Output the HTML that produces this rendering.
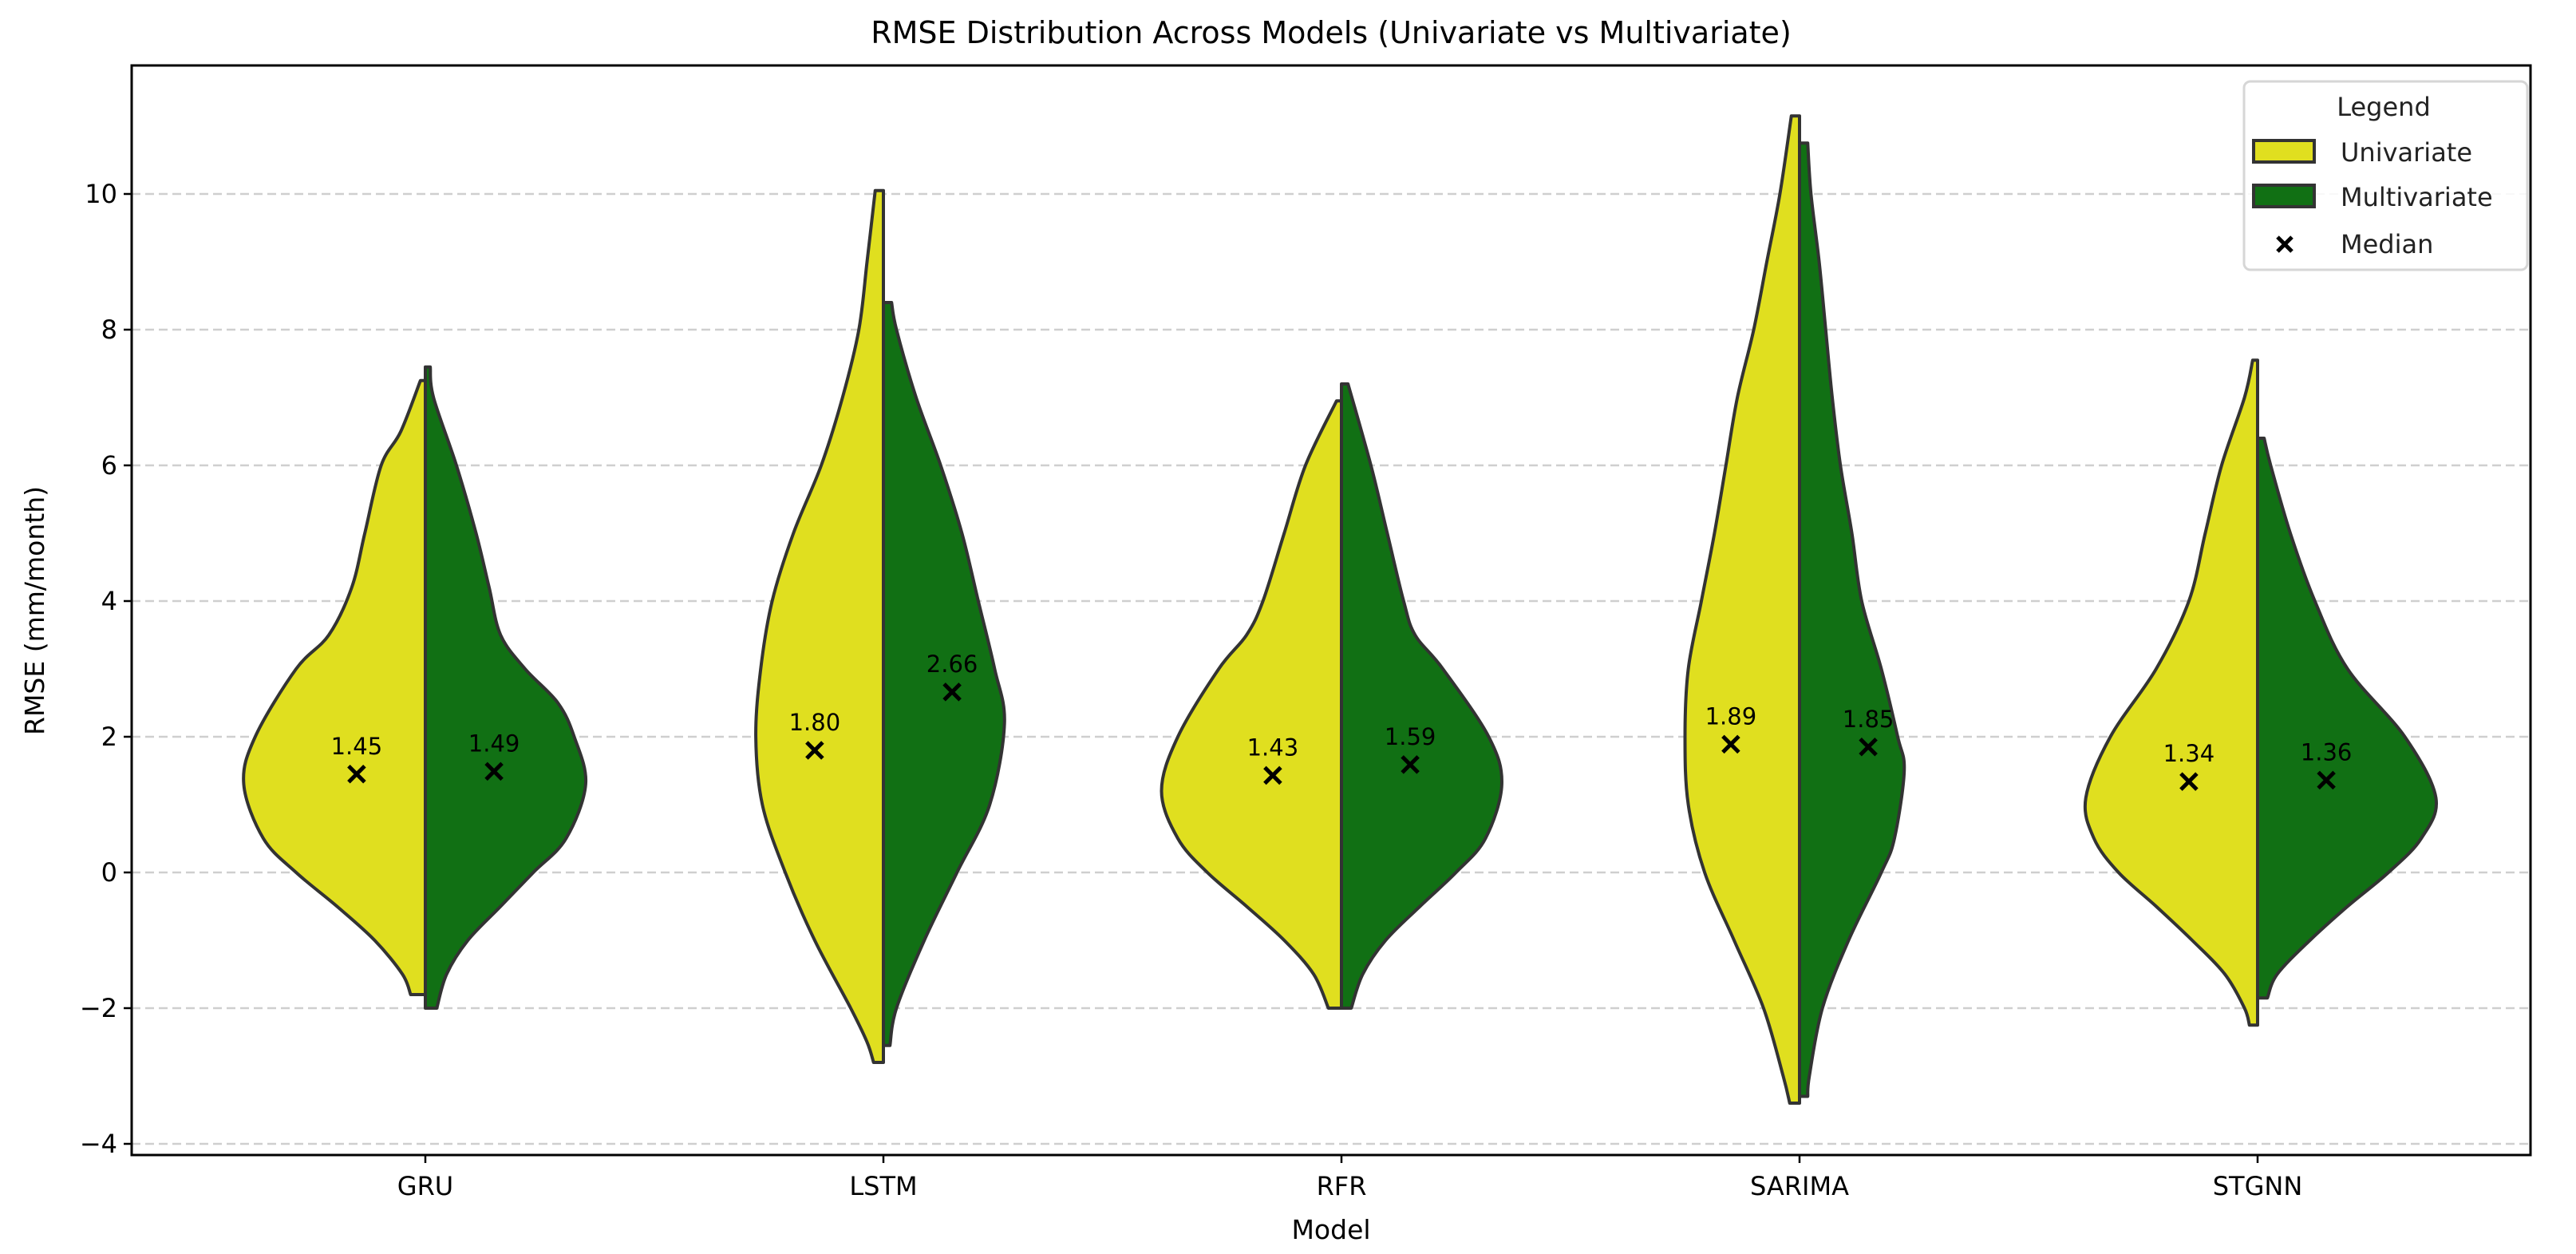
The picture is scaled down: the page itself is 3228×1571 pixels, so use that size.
<!DOCTYPE html>
<html><head><meta charset="utf-8"><style>
body{margin:0;background:#fff}
svg{display:block;font-family:"DejaVu Sans","Liberation Sans",sans-serif}
</style></head><body>
<svg id="chart" width="3228" height="1571" viewBox="0 0 3228 1571">
<rect width="3228" height="1571" fill="#fff"/>
<g id="grid"></g>
<g id="violins"></g>
<g id="axes"></g>
<text x="1668" y="54" font-size="38" text-anchor="middle" fill="#000">RMSE Distribution Across Models (Univariate vs Multivariate)</text>
<text x="1668" y="1552" font-size="33" text-anchor="middle" fill="#000">Model</text>
<text x="0" y="0" font-size="33" text-anchor="middle" fill="#000" transform="translate(55,765) rotate(-90)">RMSE (mm/month)</text>
<g>
<rect x="2812" y="102" width="355" height="236" rx="8" fill="#fff" fill-opacity="0.85" stroke="#d6d6d6" stroke-width="3"/>
<text x="2987" y="145" font-size="32" text-anchor="middle" fill="#222">Legend</text>
<rect x="2824" y="176" width="76" height="27" fill="#e0df1f" stroke="#333" stroke-width="4"/>
<text x="2933" y="202" font-size="32" fill="#222">Univariate</text>
<rect x="2824" y="232" width="76" height="27" fill="#117014" stroke="#333" stroke-width="4"/>
<text x="2933" y="258" font-size="32" fill="#222">Multivariate</text>
<path d="M2854 297 L2872 315 M2872 297 L2854 315" stroke="#000" stroke-width="5"/>
<text x="2933" y="317" font-size="32" fill="#222">Median</text>
</g>
</svg>
<script>
const categories = ["GRU","LSTM","RFR","SARIMA","STGNN"];
const yTicks = [-4,-2,0,2,4,6,8,10];
const medUni = [1.45,1.80,1.43,1.89,1.34];
const medMulti = [1.49,2.66,1.59,1.85,1.36];
// violin profiles: [value, density] pairs, top to bottom
const uniProfiles = [
 [[7.25,3],[6.5,15],[6,27],[5,37],[4.2,45],[3.5,59],[3,79],[2,104],[1.3,111],[0.5,99],[0,79],[-0.5,54],[-1,31],[-1.5,14],[-1.8,9]],
 [[10.05,5],[9,10],[8,15],[7,25],[6,38],[5,55],[4,68],[3,75],[2,78],[1,74],[0,60],[-1,42],[-2,20],[-2.5,10],[-2.8,6]],
 [[6.95,3],[6,22],[5,35],[4,48],[3.5,58],[3,75],[2,100],[1.2,110],[0.5,100],[0,82],[-0.5,58],[-1,35],[-1.5,17],[-2,8]],
 [[11.15,5],[10,12],[9,20],[8,28],[7,38],[6,45],[5,52],[4,60],[3,68],[2,70],[1,68],[0,58],[-1,40],[-2,22],[-3,10],[-3.4,6]],
 [[7.55,3],[7,8],[6,22],[5,32],[4,42],[3,62],[2,90],[1.1,105],[0.5,100],[0,85],[-0.5,62],[-1,40],[-1.5,20],[-2,8],[-2.25,5]]
];
const multiProfiles = [
 [[7.45,3],[7,5],[6,19],[5,31],[4.2,39],[3.5,46],[3,61],[2.5,81],[2,91],[1.3,98],[0.5,86],[0,66],[-0.5,46],[-1,26],[-1.5,13],[-2,7]],
 [[8.4,5],[8,8],[7,20],[6,35],[5,48],[4,58],[3,68],[2.2,74],[1,65],[0,45],[-1,25],[-2,8],[-2.55,4]],
 [[7.2,4],[6,18],[5,28],[4,38],[3.5,45],[3,62],[2,90],[1.3,98],[0.5,88],[0,70],[-0.5,48],[-1,27],[-1.5,13],[-2,6]],
 [[10.75,5],[10,7],[9,12],[8,16],[7,20],[6,25],[5,32],[4,38],[3,50],[2,60],[1.5,64],[0.5,58],[0,50],[-1,30],[-2,14],[-3,6],[-3.3,5]],
 [[6.4,4],[6,8],[5,20],[4,35],[3,55],[2,90],[1.1,109],[0.5,100],[0,80],[-0.5,55],[-1,32],[-1.5,12],[-1.85,6]]
];

const NS="http://www.w3.org/2000/svg";
const L=165,R=3171,T=82,B=1447;
const x0=533, step=574;
function xPos(i){return x0+i*step;}
function yPos(v){return 1093 - v*85;}
const maxDen=112, halfMax=0.4*step;
function wOf(d){return d/maxDen*halfMax;}
function mk(tag,attrs,parent){const e=document.createElementNS(NS,tag);for(const k in attrs)e.setAttribute(k,attrs[k]);parent.appendChild(e);return e;}
const grid=document.getElementById('grid'),axes=document.getElementById('axes'),vg=document.getElementById('violins');

yTicks.forEach(v=>{
  const gl=mk('line',{x1:L,x2:R,y1:yPos(v),y2:yPos(v),stroke:'#cfcfcf','stroke-width':2.5,'stroke-dasharray':'11,6'},grid);
  
  
  const tk=mk('line',{x1:L-10,x2:L,y1:yPos(v),y2:yPos(v),stroke:'#000','stroke-width':2.5},axes);
  
  
  const tl=mk('text',{x:L-18,y:yPos(v)+11,'font-size':32,'text-anchor':'end',fill:'#000'},axes);
  tl.textContent=(v<0?'\u2212'+(-v):String(v));
  
  
});
categories.forEach((c,i)=>{
  const tk=mk('line',{x1:xPos(i),x2:xPos(i),y1:B,y2:B+10,stroke:'#000','stroke-width':2.5},axes);
  
  
  const tl=mk('text',{x:xPos(i),y:B+50,'font-size':32,'text-anchor':'middle',fill:'#000'},axes);
  tl.textContent=c;
  
  
});
const frame=mk('rect',{x:L,y:T,width:R-L,height:B-T,fill:'none',stroke:'#000','stroke-width':3},axes);



function halfPath(cx,prof,sign){
  const pts=prof.map(p=>[cx+sign*wOf(p[1]),yPos(p[0])]);
  let d=`M${cx},${pts[0][1]} L${pts[0][0]},${pts[0][1]}`;
  for(let i=0;i<pts.length-1;i++){
    const p0=pts[Math.max(0,i-1)],p1=pts[i],p2=pts[i+1],p3=pts[Math.min(pts.length-1,i+2)];
    const c1=[p1[0]+(p2[0]-p0[0])/6,p1[1]+(p2[1]-p0[1])/6];
    const c2=[p2[0]-(p3[0]-p1[0])/6,p2[1]-(p3[1]-p1[1])/6];
    d+=` C${c1[0]},${c1[1]} ${c2[0]},${c2[1]} ${p2[0]},${p2[1]}`;
  }
  const last=pts[pts.length-1];
  d+=` L${cx},${last[1]} Z`;
  return d;
}
function medMark(x,y,val,name){
  const m=mk('path',{d:`M${x-10},${y-10} L${x+10},${y+10} M${x+10},${y-10} L${x-10},${y+10}`,stroke:'#000','stroke-width':5},vg);
  
  
  const t=mk('text',{x:x,y:y-25,'font-size':29,'text-anchor':'middle',fill:'#000'},vg);
  t.textContent=val.toFixed(2);
  
  
}
categories.forEach((c,i)=>{
  const cx=xPos(i);
  const u=mk('path',{d:halfPath(cx,uniProfiles[i],-1),fill:'#e0df1f',stroke:'#333','stroke-width':4,'stroke-linejoin':'round'},vg);
  
  
  const m=mk('path',{d:halfPath(cx,multiProfiles[i],1),fill:'#117014',stroke:'#333','stroke-width':4,'stroke-linejoin':'round'},vg);
  
  
});
categories.forEach((c,i)=>{
  const cx=xPos(i);
  medMark(cx-0.15*step,yPos(medUni[i]),medUni[i],'univariate-'+c.toLowerCase());
  medMark(cx+0.15*step,yPos(medMulti[i]),medMulti[i],'multivariate-'+c.toLowerCase());
});
</script>
</body></html>
